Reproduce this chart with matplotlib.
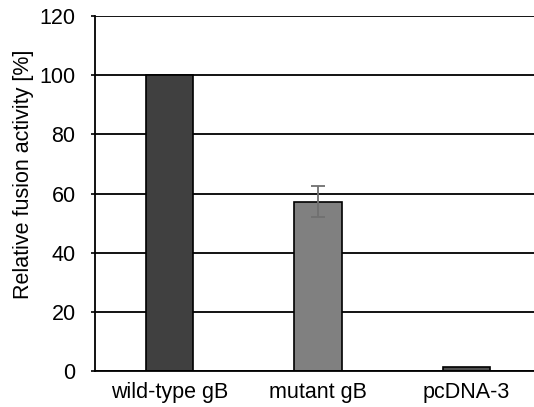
import matplotlib.pyplot as plt
import numpy as np

plt.rcParams['font.family'] = ['Liberation Sans', 'DejaVu Sans']

# data
labels = ["wild-type gB", "mutant gB", "pcDNA-3"]
values = [100, 57.2, 1.2]
errors = [0, 5.2, 0]
colors = ["#404040", "#808080", "#505050"]

fig = plt.figure(figsize=(5.34, 4.07), dpi=100)
ax = fig.add_axes([95 / 534, 36 / 407, 446 / 534, 355 / 407])

x = np.arange(len(labels))
ax.set_axisbelow(True)
ax.yaxis.grid(True, color="black", lw=1.3)
ax.bar(x, values, width=0.32, color=colors, edgecolor="black", lw=1.2, zorder=2)
ax.errorbar(x[1], values[1], yerr=errors[1], fmt="none", ecolor="#707070",
            elinewidth=1.3, capsize=5, capthick=1.3, zorder=3)

ax.set_xlim(-0.5, 2.5)
ax.set_ylim(0, 120)
ax.set_yticks(np.arange(0, 121, 20))
ax.set_xticks(x)
ax.set_xticklabels(labels, fontsize=15.5)
ax.tick_params(axis="y", labelsize=15.5, length=3, width=1.2, pad=11)
ax.tick_params(axis="x", length=0, pad=8)
for s in ["top", "right"]:
    ax.spines[s].set_visible(False)
ax.spines["left"].set_linewidth(1.3)
ax.spines["bottom"].set_linewidth(1.3)
ax.set_ylabel("Relative fusion activity [%]", fontsize=15.5)
ax.yaxis.set_label_coords(-0.137, 0.553)

fig.savefig("out.png", dpi=100)
